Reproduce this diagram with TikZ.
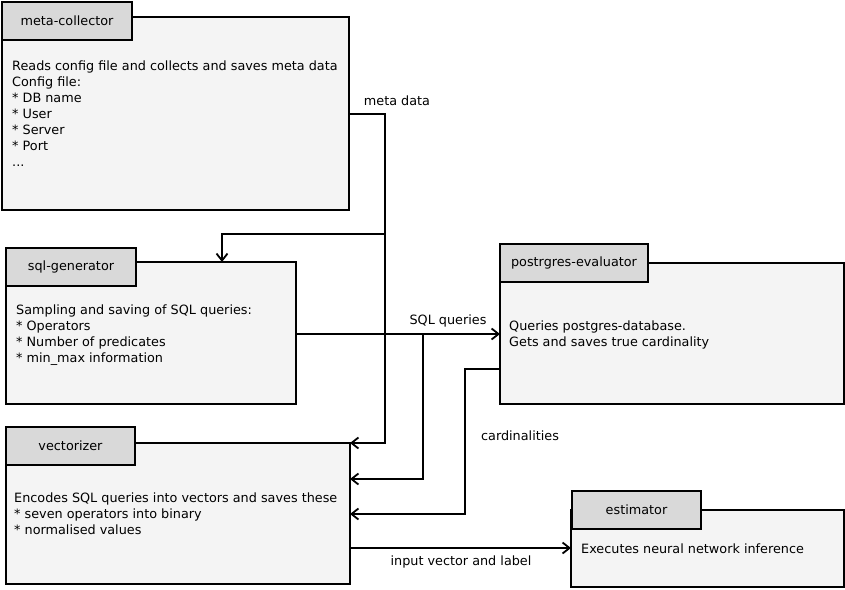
\documentclass[tikz,border=0pt]{standalone}
\usepackage{fontspec}
\setmainfont{DejaVu Sans}
\usetikzlibrary{arrows.meta}
\definecolor{tabfill}{HTML}{D9D9D9}
\definecolor{bodyfill}{HTML}{F4F4F4}
\begin{document}
\begin{tikzpicture}[x=1pt,y=-1pt,
  font=\fontsize{12.8}{16}\selectfont,
  bodybox/.style={draw, line width=2pt, fill=bodyfill, inner sep=0pt, outer sep=0pt, anchor=north west},
  tabbox/.style={draw, line width=2pt, fill=tabfill, inner sep=0pt, outer sep=0pt, anchor=north west},
  % base west of a multi-line node sits on the baseline of its last line
  bodytext/.style={anchor=base west, align=left, inner sep=0pt},
  flow/.style={line width=2pt, -{Straight Barb[length=7pt,width=11pt,line width=1.8pt]}},
  link/.style={line width=2pt},
  lbl/.style={inner sep=0pt}]
\useasboundingbox (0,0) rectangle (845,589);

% meta-collector
\node[bodybox, minimum width=347pt, minimum height=193pt] (mc) at (2,17) {};
\node[tabbox, minimum width=130pt, minimum height=38pt] (mct) at (2,2) {meta-collector};
\node[bodytext] (mcx) at (12,166.5) {Reads config file and collects and saves meta data\\Config file:\\* DB name\\* User\\* Server\\* Port\\...};

% sql-generator
\node[bodybox, minimum width=290pt, minimum height=142pt] (sg) at (6,262) {};
\node[tabbox, minimum width=130pt, minimum height=38pt] (sgt) at (6,248) {sql-generator};
\node[bodytext] (sgx) at (16,362.5) {Sampling and saving of SQL queries:\\* Operators\\* Number of predicates\\* min\_max information};

% postgres-evaluator
\node[bodybox, minimum width=344pt, minimum height=141pt] (pe) at (500,263) {};
\node[tabbox, minimum width=148pt, minimum height=38pt] (pet) at (500,244) {postrgres-evaluator};
\node[bodytext] (pex) at (509,346.5) {Queries postgres-database.\\Gets and saves true cardinality};

% vectorizer
\node[bodybox, minimum width=344pt, minimum height=141pt] (vz) at (6,443) {};
\node[tabbox, minimum width=129pt, minimum height=38pt] (vzt) at (6,427) {vectorizer};
\node[bodytext] (vzx) at (14,534.5) {Encodes SQL queries into vectors and saves these\\* seven operators into binary\\* normalised values};

% estimator
\node[bodybox, minimum width=273pt, minimum height=77pt] (es) at (571,510) {};
\node[tabbox, minimum width=129pt, minimum height=38pt] (est) at (572,491) {estimator};
\node[bodytext] (esx) at (581,553.5) {Executes neural network inference};

% junctions of the connectors
\coordinate (jmeta) at (385,234);
\coordinate (jsql) at (423,334);
\coordinate (jcard) at (465,369);

% meta data
\draw[link] (mc.east |- 0,114) -| (jmeta);
\draw[flow] (jmeta) -| (sg.north -| 222,0);
\draw[flow] (jmeta) |- (vz.north east);
\node[lbl] (lmeta) at (397,101) {meta data};

% SQL queries
\draw[flow] (sg.east |- jsql) -- (pe.west |- jsql);
\draw[flow] (jsql) |- (vz.east |- 0,479);
\node[lbl] (lsql) at (448,321) {SQL queries};

% cardinalities
\draw[flow] (pe.west |- jcard) -- (jcard) |- (vz.east |- 0,514);
\node[lbl] (lcard) at (520,436) {cardinalities};

% input vector and label
\draw[flow] (vz.east |- 0,548) -- (es.west |- 0,548);
\node[lbl] (linput) at (461,562) {input vector and label};
\end{tikzpicture}
\end{document}
